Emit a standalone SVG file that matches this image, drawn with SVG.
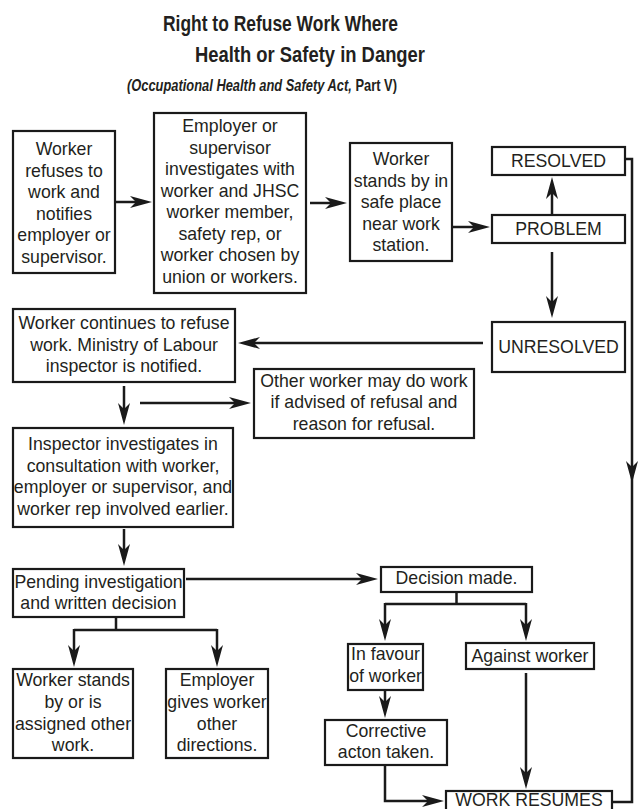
<svg xmlns="http://www.w3.org/2000/svg" width="639" height="809" viewBox="0 0 639 809">
<style>
text{font-family:"Liberation Sans",Arial,sans-serif;fill:#231f20;}
.t{font-size:17.7px;text-anchor:middle;}
.box{fill:#fff;stroke:#1a1a1a;stroke-width:2.2;}
.c{fill:none;stroke:#1a1a1a;stroke-width:2.5;}
.a{marker-end:url(#ah);}
.title{font-size:22px;font-weight:bold;}
.sub{font-size:16px;font-weight:bold;}
</style>
<defs>
<marker id="ah" viewBox="0 0 22 12" refX="14" refY="6" markerWidth="22" markerHeight="12" markerUnits="userSpaceOnUse" orient="auto">
<path d="M22,6 L0,0 L6,6 L0,12 Z" fill="#1a1a1a"/>
</marker>
</defs>
<rect width="639" height="809" fill="#fff"/>
<g id="title">
<text class="title" x="163" y="31" textLength="235" lengthAdjust="spacingAndGlyphs">Right to Refuse Work Where</text>
<text class="title" x="195" y="62" textLength="230" lengthAdjust="spacingAndGlyphs">Health or Safety in Danger</text>
<g transform="translate(127,91) scale(0.805,1)">
<text class="sub" x="0" y="0"><tspan font-style="italic">(Occupational Health and Safety Act,</tspan> Part V)</text>
</g>
</g>
<g id="connectors">
<path class="c a" d="M115,202 H144"/>
<path class="c a" d="M310,203 H339"/>
<path class="c a" d="M453,227 H482"/>
<path class="c a" d="M552,215 V185"/>
<path class="c a" d="M552,252 V310"/>
<path class="c a" d="M483,343 H246"/>
<path class="c a" d="M124,386 V417"/>
<path class="c a" d="M140,403 H243"/>
<path class="c a" d="M124,529 V558"/>
<path class="c a" d="M186,579 H370"/>
<path class="c" d="M456.5,592 V604 M385,604 H526"/>
<path class="c a" d="M385,603 V633"/>
<path class="c a" d="M526,603 V633"/>
<path class="c a" d="M385,690 V710"/>
<path class="c a" d="M385,765 V801 H436"/>
<path class="c a" d="M526,673 V781"/>
<path class="c" d="M116,617 V630 M74,630 H217"/>
<path class="c a" d="M74,629 V659"/>
<path class="c a" d="M217,629 V659"/>
<path class="c a" d="M625,159 H632 V475"/>
<path class="c" d="M632,474 V802 H612"/>
</g>
<g id="n1"><rect class="box" x="13" y="131" width="102" height="142"/>
<text class="t" x="64" y="155">Worker</text><text class="t" x="64" y="176.5">refuses to</text><text class="t" x="64" y="198">work and</text><text class="t" x="64" y="219.5">notifies</text><text class="t" x="64" y="241">employer or</text><text class="t" x="64" y="262.5">supervisor.</text></g>
<g id="n2"><rect class="box" x="154" y="113" width="152" height="180"/>
<text class="t" x="230" y="132">Employer or</text><text class="t" x="230" y="153.5">supervisor</text><text class="t" x="230" y="175">investigates with</text><text class="t" x="230" y="196.5">worker and JHSC</text><text class="t" x="230" y="218">worker member,</text><text class="t" x="230" y="239.5">safety rep, or</text><text class="t" x="230" y="261">worker chosen by</text><text class="t" x="230" y="282.5">union or workers.</text></g>
<g id="n3"><rect class="box" x="350" y="143" width="102" height="118"/>
<text class="t" x="401" y="165">Worker</text><text class="t" x="401" y="186.5">stands by in</text><text class="t" x="401" y="208">safe place</text><text class="t" x="401" y="229.5">near work</text><text class="t" x="401" y="251">station.</text></g>
<g id="resolved"><rect class="box" x="492" y="147" width="133" height="28"/><text class="t" x="558.5" y="167">RESOLVED</text></g>
<g id="problem"><rect class="box" x="492" y="215" width="133" height="28"/><text class="t" x="558.5" y="235">PROBLEM</text></g>
<g id="unresolved"><rect class="box" x="492" y="322" width="133" height="50"/><text class="t" x="558.5" y="353">UNRESOLVED</text></g>
<g id="continues"><rect class="box" x="13" y="309" width="222" height="73"/>
<text class="t" x="124" y="329">Worker continues to refuse</text><text class="t" x="124" y="351">work. Ministry of Labour</text><text class="t" x="124" y="372">inspector is notified.</text></g>
<g id="other"><rect class="box" x="254" y="369" width="220" height="69"/>
<text class="t" x="364" y="387">Other worker may do work</text><text class="t" x="364" y="408">if advised of refusal and</text><text class="t" x="364" y="430">reason for refusal.</text></g>
<g id="inspector"><rect class="box" x="13" y="428" width="220" height="99"/>
<text class="t" x="123" y="450">Inspector investigates in</text><text class="t" x="123" y="471.5">consultation with worker,</text><text class="t" x="123" y="493">employer or supervisor, and</text><text class="t" x="123" y="514.5">worker rep involved earlier.</text></g>
<g id="pending"><rect class="box" x="13" y="569" width="171" height="48"/>
<text class="t" x="98.5" y="588">Pending investigation</text><text class="t" x="98.5" y="609">and written decision</text></g>
<g id="standsby"><rect class="box" x="13" y="669" width="120" height="89"/>
<text class="t" x="73" y="686">Worker stands</text><text class="t" x="73" y="708">by or is</text><text class="t" x="73" y="730">assigned other</text><text class="t" x="73" y="751">work.</text></g>
<g id="employer"><rect class="box" x="166" y="669" width="102" height="89"/>
<text class="t" x="217" y="686">Employer</text><text class="t" x="217" y="708">gives worker</text><text class="t" x="217" y="730">other</text><text class="t" x="217" y="751">directions.</text></g>
<g id="decision"><rect class="box" x="381" y="567" width="151" height="25"/><text class="t" x="456.5" y="584">Decision made.</text></g>
<g id="favour"><rect class="box" x="348" y="644" width="75" height="46"/>
<text class="t" x="385.5" y="660">In favour</text><text class="t" x="385.5" y="682">of worker</text></g>
<g id="against"><rect class="box" x="466" y="643" width="128" height="26"/><text class="t" x="530" y="662">Against worker</text></g>
<g id="corrective"><rect class="box" x="325" y="720" width="122" height="45"/>
<text class="t" x="386" y="737">Corrective</text><text class="t" x="386" y="758">acton taken.</text></g>
<g id="resumes"><rect class="box" x="446" y="791" width="166" height="25"/><text class="t" x="529" y="806">WORK RESUMES</text></g>
</svg>
